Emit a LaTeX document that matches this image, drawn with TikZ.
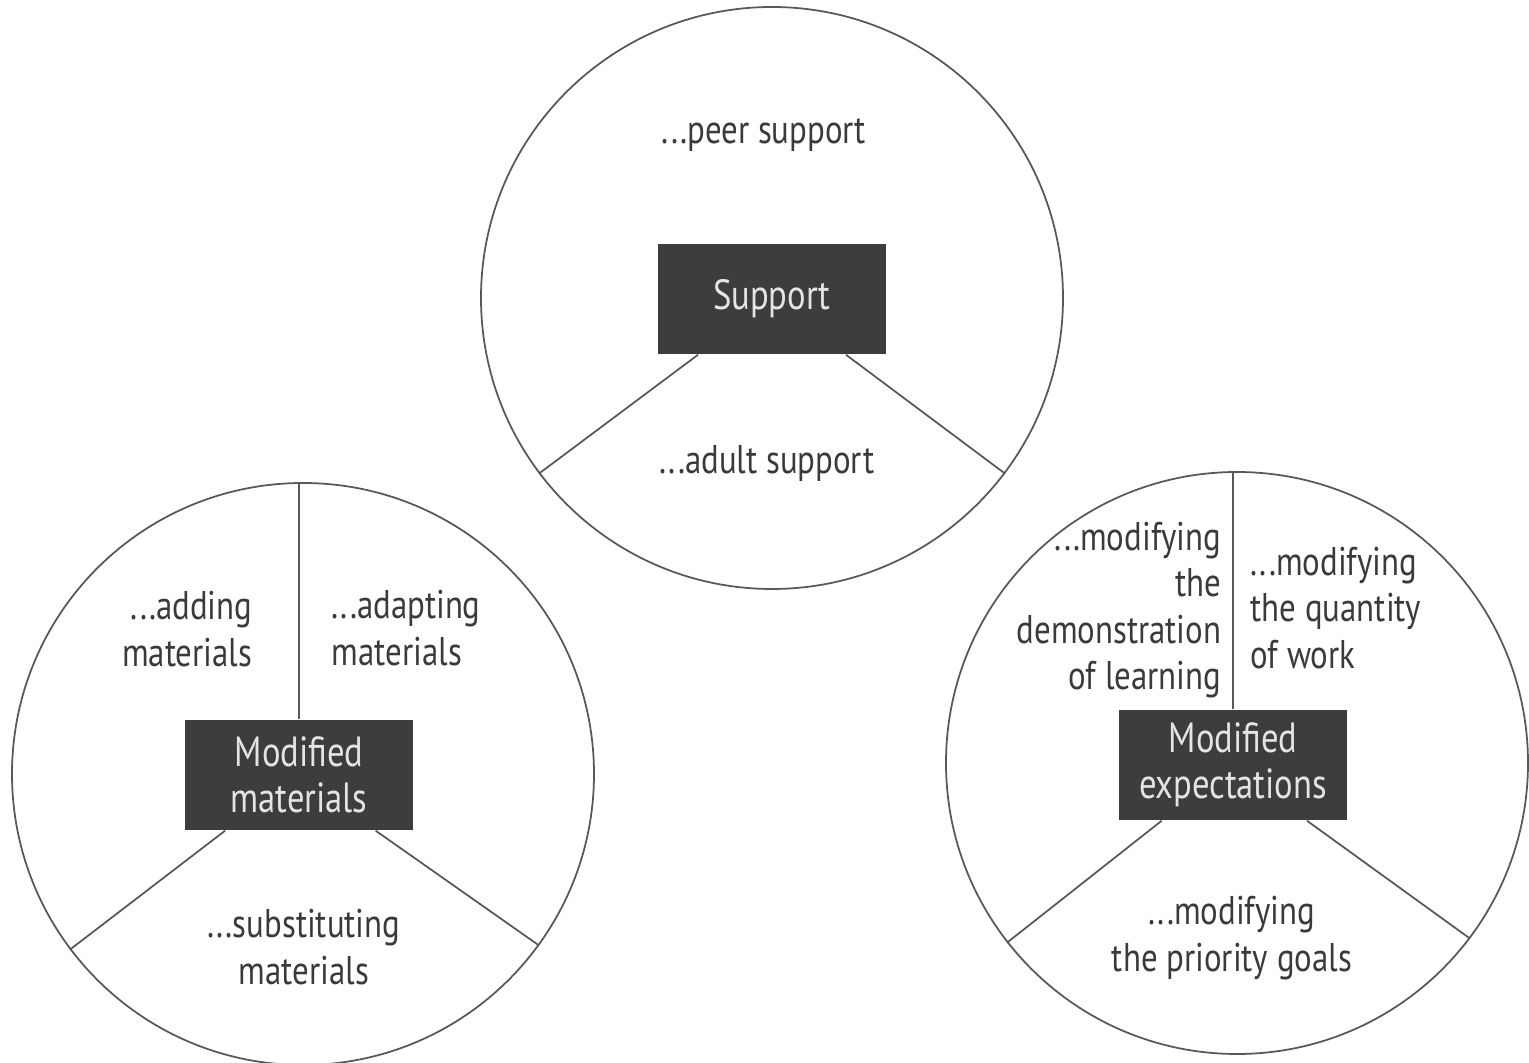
\documentclass[tikz,border=0pt]{standalone}
\usepackage{fontspec}
\setmainfont{PT Sans}[FakeStretch=0.82]
\definecolor{ink}{HTML}{3A3A3A}
\definecolor{boxgray}{HTML}{3D3D3B}
\definecolor{boxtext}{HTML}{E4E4E4}

\begin{document}
\begin{tikzpicture}
            \tikzstyle{ring}=[circle,draw=ink!85,line width=0.5pt,minimum size=5.82cm,inner sep=0pt]
            \tikzstyle{head}=[rectangle,fill=boxgray,text=boxtext,minimum width=2.28cm,minimum height=1.10cm,align=center,inner sep=0pt,font=\fontsize{12}{13.2}\selectfont]
            \tikzstyle{item}=[text=ink,inner sep=0pt,font=\fontsize{11.4}{13.2}\selectfont]
            \tikzstyle{spoke}=[draw=ink!85,line width=0.5pt,-]

            \useasboundingbox (0,0) rectangle (15.29,-10.63);

            \node[ring] (c1) at ( 7.72,-2.98) {};
            \node[ring] (c2) at ( 3.03,-7.74) {};
            \node[ring] (c3) at (12.37,-7.63) {};

            \node[head] (b1) at ( 7.72,-2.99) {Support};
            \node[head] (b2) at ( 2.99,-7.75) {Modified\\materials};
            \node[head] (b3) at (12.33,-7.65) {Modified\\expectations};

            \node[item] (t1) at (7.64,-1.35) {...peer support};
            \node[item] (t2) at (7.67,-4.63) {...adult support};

            \node[item,align=right,anchor=east] (t3) at (2.53,-6.29) {...adding\\materials};
            \node[item,align=left,anchor=west]  (t4) at (3.31,-6.28) {...adapting\\materials};
            \node[item,align=center]            (t5) at (3.04,-9.47) {...substituting\\materials};

            \node[item,align=right,anchor=east] (t6) at (12.22,-6.10) {...modifying\\the\\demonstration\\of learning};
            \node[item,align=left,anchor=west]  (t7) at (12.50,-6.08) {...modifying\\the quantity\\of work};
            \node[item,align=center]            (t8) at (12.32,-9.38) {...modifying\\the priority goals};

            \path[spoke] (b1.-143) -- (c1.-143);
            \path[spoke] (b1.-37) -- (c1.-37);

            \path[spoke] (b2.north) -- (b2.north |- c2.north);
            \path[spoke] (b2.-143) -- (c2.-143);
            \path[spoke] (b2.-36) -- (c2.-36);

            \path[spoke] (b3.north) -- (b3.north |- c3.north);
            \path[spoke] (b3.-142) -- (c3.-142);
            \path[spoke] (b3.-37) -- (c3.-37);
        \end{tikzpicture}
\end{document}
